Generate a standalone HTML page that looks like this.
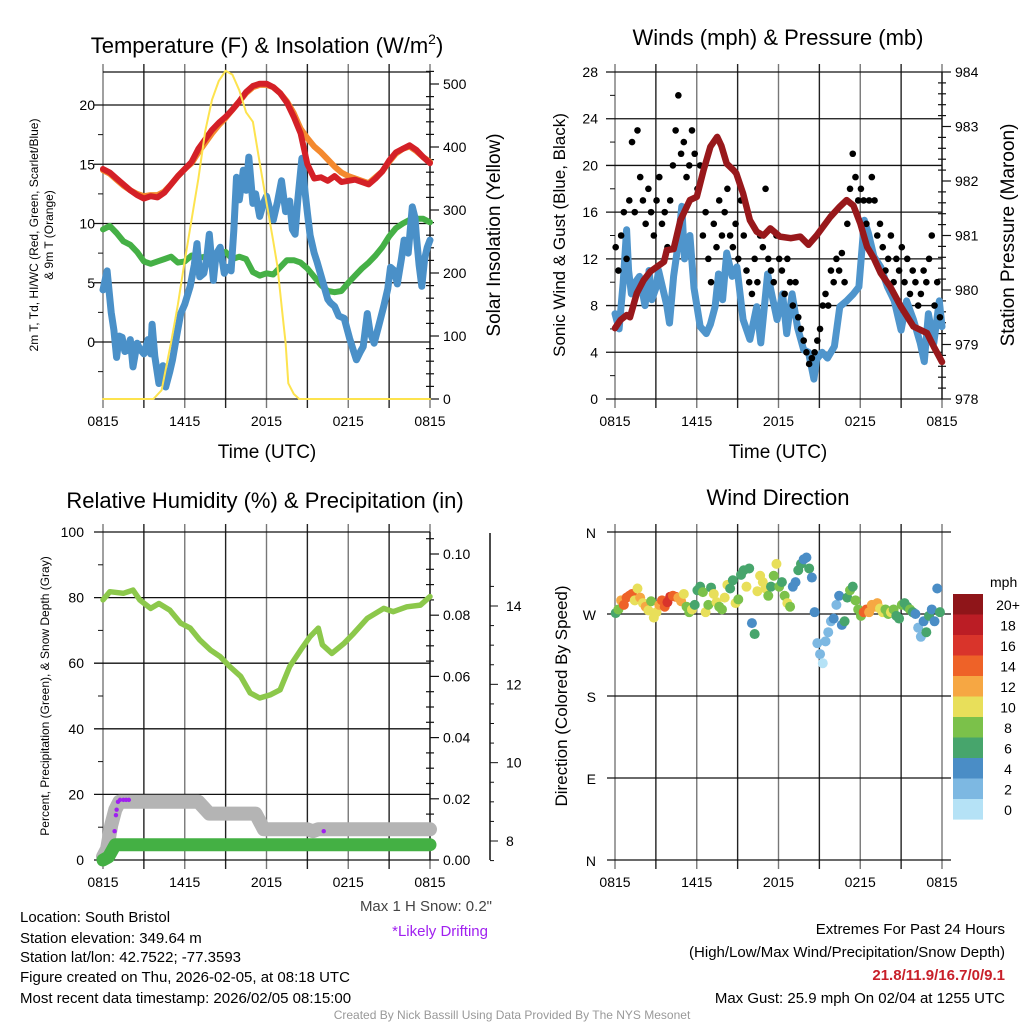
<!DOCTYPE html>
<html><head><meta charset="utf-8"><style>
body{margin:0;background:#fff}
svg{display:block;font-family:"Liberation Sans",sans-serif}
</style></head><body>
<svg id="s" width="1024" height="1024" viewBox="0 0 1024 1024">
<rect width="1024" height="1024" fill="#fff"/>
<g id="g1"></g>
<g id="g2"></g>
<g id="g3"></g>
<g id="g4"></g>
<g id="txt" font-size="15" fill="#000">
<text x="20" y="922">Location: South Bristol</text>
<text x="20" y="943">Station elevation: 349.64 m</text>
<text x="20" y="962">Station lat/lon: 42.7522; -77.3593</text>
<text x="20" y="982">Figure created on Thu, 2026-02-05, at 08:18 UTC</text>
<text x="20" y="1003">Most recent data timestamp: 2026/02/05 08:15:00</text>
<text x="1005" y="934" text-anchor="end">Extremes For Past 24 Hours</text>
<text x="1005" y="957" text-anchor="end">(High/Low/Max Wind/Precipitation/Snow Depth)</text>
<text x="1005" y="980" text-anchor="end" font-weight="bold" fill="#c8202a">21.8/11.9/16.7/0/9.1</text>
<text x="1005" y="1003" text-anchor="end">Max Gust: 25.9 mph On 02/04 at 1255 UTC</text>
<text x="512" y="1019" text-anchor="middle" font-size="12" fill="#999">Created By Nick Bassill Using Data Provided By The NYS Mesonet</text>
<text x="492" y="911" text-anchor="end" fill="#444">Max 1 H Snow: 0.2"</text>
<text x="488" y="936" text-anchor="end" fill="#a020f0">*Likely Drifting</text>
</g>
</svg>
<script>
// ---------- data ----------
const halfHours = [0,0.5,1,1.5,2,2.5,3,3.5,4,4.5,5,5.5,6,6.5,7,7.5,8,8.5,9,9.5,10,10.5,11,11.5,12,12.5,13,13.5,14,14.5,15,15.5,16,16.5,17,17.5,18,18.5,19,19.5,20,20.5,21,21.5,22,22.5,23,23.5,24];
const tempRed = [14.6,14.3,13.8,13.3,12.8,12.4,12.1,12.3,12.2,12.6,13.3,14.0,14.6,15.2,16.3,17.1,17.9,18.5,19.0,19.6,20.3,21.1,21.6,21.8,21.8,21.5,21.0,20.2,19.0,17.6,15.0,13.8,13.9,13.6,14.0,13.5,13.6,13.7,13.5,13.3,13.8,14.4,15.3,16.0,16.3,16.6,16.2,15.6,15.1];
const temp9m = [14.5,14.2,13.7,13.2,12.8,12.5,12.3,12.4,12.4,12.7,13.3,14.0,14.6,15.1,16.0,16.8,17.6,18.3,18.9,19.6,20.3,21.0,21.5,21.7,21.7,21.5,21.0,20.3,19.3,18.0,17.2,16.5,16.0,15.4,14.8,14.3,14.0,13.8,13.6,13.4,13.9,14.4,15.2,15.9,16.3,16.5,16.1,15.6,15.2];
const dewGreen = [9.5,9.8,9.2,8.5,8.2,7.6,6.8,6.6,6.8,7.0,7.2,6.7,6.8,7.3,7.1,7.2,7.1,7.5,7.6,7.0,7.2,7.0,5.9,5.6,5.8,5.7,6.3,6.9,6.9,6.7,6.2,5.5,4.8,4.3,4.2,4.3,5.0,5.6,6.2,6.7,7.3,8.0,8.9,9.6,10.0,10.3,10.4,10.4,10.1];
const wcTimes = [0,0.3,0.6,0.8,1.0,1.2,1.4,1.6,1.8,2.0,2.2,2.5,2.7,3.0,3.3,3.5,3.6,3.8,4.1,4.4,4.6,4.9,5.1,5.4,5.7,6.0,6.4,6.7,6.9,7.1,7.4,7.6,7.8,8.1,8.3,8.6,8.9,9.1,9.4,9.6,9.8,10.0,10.3,10.5,10.7,11.0,11.2,11.5,11.8,12.0,12.3,12.5,12.8,13.1,13.4,13.7,13.9,14.1,14.3,14.6,14.8,15.0,15.2,15.5,15.7,16.0,16.2,16.5,16.7,17.0,17.3,17.7,18.1,18.4,18.6,18.9,19.1,19.4,19.6,19.9,20.2,20.6,20.9,21.1,21.4,21.6,21.9,22.1,22.4,22.7,22.9,23.0,23.2,23.4,23.6,23.8,24];
const wcBlue = [4.4,6.0,2.5,1.0,-1.3,0.5,0.4,-0.8,-0.7,0.2,-2.1,-0.1,-0.6,-1.0,0.2,-1.0,1.5,-1.2,-3.5,-2.0,-3.8,-2.5,-1.5,0.5,2.4,3.2,4.7,6.5,8.3,5.5,5.8,7.0,9.1,5.2,7.4,8.0,5.8,6.3,6.0,9.4,13.9,12.0,14.5,12.8,15.6,11.7,12.5,10.6,11.8,12.3,10.9,10.3,11.8,13.6,11.0,11.9,9.5,9.1,12.0,15.5,13.0,10.9,9.0,7.5,6.8,5.6,4.8,3.6,3.3,3.0,2.2,2.0,0.3,-0.8,-1.5,-0.8,-0.4,2.4,0.8,-0.1,1.2,3.0,4.5,6.3,6.0,4.9,7.0,8.6,7.5,11.4,10.5,8.9,6.5,4.7,7.0,8.0,8.6];
const insolTimes = [0,3.7,4.3,5,5.5,6,6.5,7,7.5,8,8.5,9,9.5,10,10.5,11,11.5,12,12.5,12.8,13.2,13.4,13.6,14,14.4,24];
const insolVals = [0,0,14,90,150,220,285,350,425,475,505,521,515,490,455,440,375,312,250,211,130,89,25,8,0,0];

const windTimes = [0,0.3,0.6,0.85,1.0,1.2,1.5,1.8,2.2,2.5,2.7,3.0,3.2,3.5,3.8,4.0,4.3,4.6,4.9,5.1,5.5,5.8,6.25,6.7,7.0,7.35,7.6,7.9,8.2,8.6,8.95,9.4,9.9,10.4,10.7,11.2,11.5,11.9,12.3,12.6,13.0,13.4,13.85,14.2,14.6,14.8,15.2,15.6,16.1,16.5,17.0,17.5,17.9,18.3,18.6,19.0,19.5,20.0,20.5,21.0,21.4,21.9,22.4,22.7,23.0,23.4,23.8,24];
const windVals = [7.3,6.0,10,14.5,11,9,10,10.5,8,11,8.5,9.5,11,9.5,8,6.5,10.5,13,16.5,12,14,9.5,6.2,5.6,6.4,7.9,10.7,8.5,12.5,10.5,11.3,6.8,5.1,7.9,4.8,10.7,9.0,6.8,9.0,5.6,9.0,6.1,4.2,4.0,1.7,3.4,4.0,3.5,4.5,7.9,8.4,9.0,9.6,15.3,14.2,12.2,11.3,9.6,8.4,5.9,8.4,6.8,4.8,3.2,7.3,4.8,8.4,6.2];
const pressTimes = [0,0.4,0.86,1.1,1.6,2.1,2.6,3.6,3.8,4.3,4.8,5.5,6.0,6.5,7.0,7.5,7.8,8.2,8.7,8.9,9.4,9.9,10.4,10.9,11.4,12.1,12.9,13.6,14.2,14.8,15.8,16.5,17.0,17.5,18.0,18.5,19.0,19.5,20.2,21.0,21.9,22.9,23.4,24];
const pressVals = [979.3,979.45,979.54,979.5,979.94,980.18,980.34,980.52,980.73,980.75,981.28,981.65,981.71,982.2,982.63,982.81,982.65,982.32,982.2,982.14,981.77,981.28,981.07,981.0,981.13,980.98,980.95,980.98,980.83,981.0,981.34,981.53,981.65,981.55,981.22,980.79,980.58,980.31,980.06,979.69,979.33,979.21,978.96,978.68];
const gustVals = [13,11,14,16,12,17,22,16,23,19,17,15,18,16,14,17,19,15,16,13,17,20,23,26,21,22,19,20,23,21,18,20,14,16,12,10,15,13,17,14,16,18,14,13,15,12,17,14,11,10,9,12,10,14,13,18,12,11,10,14,12,11,9,12,10,8,10,7,6,5,4,3,3.5,4,5,6,8,9,8,11,10,12,11,12.5,10,15,18,21,19,17,18,17,15,17,19,17,14,15,13,11,12,14,10,12,11,13,10,12,9,11,10,8,9,11,10,12,14,8,10,7];

const rhTimes = [0,0.5,1.5,2.2,2.7,3.5,4.1,4.9,5.7,6.4,7.1,7.9,8.6,9.3,10.1,10.8,11.5,12.3,13.0,13.7,14.5,15.2,15.8,16.1,16.8,17.7,18.4,19.4,20.6,21.3,22.3,23.3,24];
const rhVals = [79.3,81.8,81.3,82.3,79.3,76.7,78.2,76.2,72.2,70.7,67.1,64.0,62.0,59.0,56.0,50.9,49.4,50.4,51.9,59.0,64.0,68.1,70.7,65.6,63.0,66.1,69.1,73.7,76.7,75.7,77.2,77.7,80.3];
const snowTimes = [0,0.3,0.6,0.9,1.2,1.5,7.0,7.8,11.2,11.8,15.0,15.4,15.8,24];
const snowVals = [7.6,7.8,8.4,8.8,9.0,9.0,9.0,8.7,8.7,8.3,8.3,8.25,8.3,8.3];
const precipTimes = [0,0.4,0.9,24];
const precipVals = [0,0.001,0.005,0.005];
const driftTimes = [0.85,0.95,1.0,1.1,1.25,1.5,1.7,1.9,16.2];
const driftVals = [8.25,8.66,8.8,9.0,9.05,9.05,9.05,9.05,8.25];

const dirVals = [271,275,285,280,288,290,292,285,298,288,282,278,274,284,266,272,280,285,278,283,289,290,289,288,284,292,278,272,275,280,296,300,294,272,280,299,292,283,278,275,288,302,298,307,282,286,313,318,300,320,260,248,295,312,305,298,290,300,312,325,300,305,290,282,278,300,305,318,325,330,332,320,310,272,238,226,216,240,250,262,265,280,290,258,262,288,296,300,285,275,268,272,275,272,280,278,282,276,272,275,270,272,275,268,265,280,282,278,275,272,270,255,245,262,250,268,275,262,298,272];
const dirSpeeds = [7,8,13,14,15,14,15,11,10,12,10,12,11,9,11,10,12,14,15,17,16,15,14,13,12,11,9,8,10,7,7,6,8,10,9,7,11,10,9,8,11,10,7,6,11,8,6,7,10,6,5,6,11,10,11,10,8,7,9,11,8,7,9,11,8,4,5,6,7,5,4,6,5,4,2,2,1,3,2,3,4,3,4,5,7,7,8,7,8,9,9,15,14,13,12,13,12,10,11,8,9,10,8,7,7,8,7,6,8,6,5,3,2,4,6,7,5,4,4,6];
const legendLabels = ["20+","18","16","14","12","10","8","6","4","2","0"];
const speedColors = ["#b5e2f6","#7db8e2","#4a8dc6","#47a56c","#7bc14a","#e8df5a","#f6a743","#ee6228","#d9342b","#bb1d25","#8f1519"];

// ---------- helpers ----------
const NS = "http://www.w3.org/2000/svg";
function mk(parent, tag, attrs, text){
  const e = document.createElementNS(NS, tag);
  for (const k in attrs) e.setAttribute(k, attrs[k]);
  if (text !== undefined) e.textContent = text;
  parent.appendChild(e);
  return e;
}
function tx(x0){ return t => x0 + t/24*327; }
function lin(v0, v1, y0, y1){ return v => y0 + (v - v0)/(v1 - v0)*(y1 - y0); }
function pathFrom(ts, vs, X, Y){ return ts.map((t,i)=>(i?"L":"M")+X(t).toFixed(1)+","+Y(vs[i]).toFixed(1)).join(""); }
const xLabels = ["0815","1415","2015","0215","0815"];

function frame(g, x0, y0, x1, y1){
  const X = tx(x0);
  for (let i=0;i<=8;i++){
    const x = X(i*3);
    const l = mk(g,"line",{x1:x,y1:y0-8,x2:x,y2:y1+9,stroke:i%2?"#222":"#777","stroke-width":1.4});
    
    
  }
  for (let i=0;i<5;i++){
    const lb = mk(g,"text",{x:X(i*6),y:y1+27,"text-anchor":"middle","font-size":14},xLabels[i]);
    
    
  }
  return X;
}
function hgrid(g, x0, x1, y, label, lx){
  const l = mk(g,"line",{x1:x0-9,y1:y,x2:x1,y2:y,stroke:"#111","stroke-width":1.3});
  
  
  if (label!==null){
    const t = mk(g,"text",{x:lx,y:y+5,"text-anchor":"end","font-size":14},label);
    
    
  }
}
function rightTick(g, x, y, label, major){
  const l = mk(g,"line",{x1:x-(major?0:4),y1:y,x2:x+(major?9:4),y2:y,stroke:"#111","stroke-width":1.2});
  
  
  if (label!==null){
    const t = mk(g,"text",{x:x+13,y:y+5,"font-size":14},label);
    
    
  }
}
function title(g, x, y, s, sup){
  const t = mk(g,"text",{x:x,y:y,"text-anchor":"middle","font-size":22},s);
  
  
  if (sup){ mk(t,"tspan",{"font-size":14,dy:-9},sup); mk(t,"tspan",{dy:9},")"); }
  return t;
}
function vlabel(g, x, y, s, fs){
  const t = mk(g,"text",{x:0,y:0,"text-anchor":"middle","font-size":fs,transform:`translate(${x},${y}) rotate(-90)`},s);
  
  
  return t;
}
function line(g, d, color, w, name){
  const p = mk(g,"path",{d:d,fill:"none",stroke:color,"stroke-width":w,"stroke-linejoin":"round","stroke-linecap":"round"});
  
  
  return p;
}

// ---------- panel 1 ----------
(function(){
  const g = document.getElementById("g1");
  const x0=103,x1=430,y0=72,y1=399;
  const X = frame(g,x0,y0,x1,y1);
  const Y = lin(0,20,342,105);
  const YR = lin(0,500,399,84);
  [20,15,10,5,0].forEach(v=>hgrid(g,x0,x1,Y(v),String(v),95));
  [17.5,12.5,7.5,2.5,-2.5].forEach(v=>{const l=mk(g,"line",{x1:x0-5,y1:Y(v),x2:x0,y2:Y(v),stroke:"#111"});});
  mk(g,"line",{x1:x0,y1:y1,x2:x1,y2:y1,stroke:"#111","stroke-width":1.3});
  mk(g,"line",{x1:x0,y1:y0,x2:x1,y2:y0,stroke:"#111","stroke-width":1.3});
  mk(g,"line",{x1:x1,y1:y0,x2:x1,y2:y1,stroke:"#111","stroke-width":1.3});
  for (let v=0; v<=520; v+=20) rightTick(g,x1,YR(v), v%100===0?String(v):null, v%100===0);
  line(g,pathFrom(halfHours,dewGreen,X,Y),"#45b046",6,"dewpoint-line");
  line(g,pathFrom(wcTimes,wcBlue,X,Y),"#4a90c8",7,"windchill-line");
  line(g,pathFrom(halfHours,temp9m,X,Y),"#f4892e",6,"temp-9m-line");
  line(g,pathFrom(halfHours,tempRed,X,Y),"#d42027",6,"temp-2m-line");
  line(g,pathFrom(insolTimes,insolVals,X,YR),"#fde34e",2,"insolation-line");
  title(g,267,53,"Temperature (F) & Insolation (W/m","2");
  vlabel(g,38,235,"2m T, Td, HI/WC (Red, Green, Scarlet/Blue)",12);
  vlabel(g,53,235,"& 9m T (Orange)",12);
  vlabel(g,500,235,"Solar Insolation (Yellow)",19);
  const xt = mk(g,"text",{x:267,y:458,"text-anchor":"middle","font-size":19},"Time (UTC)");
   
})();

// ---------- panel 2 ----------
(function(){
  const g = document.getElementById("g2");
  const x0=615,x1=942,y0=72,y1=399;
  const X = frame(g,x0,y0,x1,y1);
  const Y = lin(0,28,399,72);
  const YP = lin(978,984,399,72);
  for (let v=0; v<=28; v+=4) hgrid(g,x0,x1,Y(v),String(v),598);
  for (let v=2; v<28; v+=4){const l=mk(g,"line",{x1:x0-5,y1:Y(v),x2:x0,y2:Y(v),stroke:"#111"});}
  mk(g,"line",{x1:x1,y1:y0,x2:x1,y2:y1,stroke:"#111","stroke-width":1.3});
  for (let v=978; v<=984.001; v+=0.2){ const m = Math.abs(v-Math.round(v))<0.01; rightTick(g,x1,YP(v), m?String(Math.round(v)):null, m); }
  line(g,pathFrom(windTimes,windVals,X,Y),"#4f95cc",7,"sonic-wind-line");
  gustVals.forEach((v,i)=>{
    const c = mk(g,"circle",{cx:X(i*0.2+0.05),cy:Y(v),r:3.3,fill:"#000"});
    
    
  });
  line(g,pathFrom(pressTimes,pressVals,X,YP),"#98181b",6.5,"pressure-line");
  title(g,778,45,"Winds (mph) & Pressure (mb)");
  vlabel(g,565,235,"Sonic Wind & Gust (Blue, Black)",17);
  vlabel(g,1014,235,"Station Pressure (Maroon)",19);
  const xt = mk(g,"text",{x:778,y:458,"text-anchor":"middle","font-size":19},"Time (UTC)");
   
})();

// ---------- panel 3 ----------
(function(){
  const g = document.getElementById("g3");
  const x0=103,x1=430,y0=532,y1=860;
  const X = frame(g,x0,y0,x1,y1);
  const Y = lin(0,100,860,532);
  const YR = lin(0,0.1,860,554);
  const YS = lin(8,14,841,606);
  for (let v=0; v<=100; v+=20) hgrid(g,x0,x1,Y(v),String(v),84);
  for (let v=10; v<100; v+=20){const l=mk(g,"line",{x1:x0-5,y1:Y(v),x2:x0,y2:Y(v),stroke:"#111"});}
  mk(g,"line",{x1:x1,y1:y0,x2:x1,y2:y1,stroke:"#111","stroke-width":1.3});
  for (let v=0; v<=0.1051; v+=0.005){ const m = Math.round(v*1000)%20===0; rightTick(g,x1,YR(v), m?v.toFixed(2):null, m); }
  const ax = mk(g,"line",{x1:490,y1:533,x2:490,y2:860,stroke:"#111","stroke-width":1.5});
   
  for (let v=7.5; v<=14.9; v+=0.5){ const m = Math.abs(v-Math.round(v))<0.01 && Math.round(v)%2===0;
    const l=mk(g,"line",{x1:490,y1:YS(v),x2:490+(m?8:4),y2:YS(v),stroke:"#111"});  
    if (m){ const t=mk(g,"text",{x:506,y:YS(v)+5,"font-size":14},String(Math.round(v)));   } }
  line(g,pathFrom(snowTimes,snowVals,X,YS),"#b4b4b4",14,"snow-depth-line");
  line(g,pathFrom(precipTimes,precipVals,X,YR),"#44b044",13,"precipitation-line");
  line(g,pathFrom(rhTimes,rhVals,X,Y),"#8cc84b",5.5,"humidity-line");
  driftTimes.forEach((t,i)=>{
    const c = mk(g,"circle",{cx:X(t),cy:YS(driftVals[i]),r:2.2,fill:"#a020f0"});
    
    
  });
  title(g,265,508,"Relative Humidity (%) & Precipitation (in)");
  vlabel(g,49,696,"Percent, Precipitation (Green), & Snow Depth (Gray)",12);
})();

// ---------- panel 4 ----------
(function(){
  const g = document.getElementById("g4");
  const x0=616,x1=942,y0=532,y1=860;
  const X = tx(x0-1);
  const Y = lin(0,360,860,532);
  for (let i=0;i<=8;i++){ const x=X(i*3); const l=mk(g,"line",{x1:x,y1:y0-8,x2:x,y2:y1+9,stroke:i%2?"#222":"#777","stroke-width":1.4});   }
  for (let i=0;i<5;i++){ const lb=mk(g,"text",{x:X(i*6),y:y1+27,"text-anchor":"middle","font-size":14},xLabels[i]);   }
  const dl = ["N","E","S","W","N"];
  [0,90,180,270,360].forEach((d,i)=>{ const l=mk(g,"line",{x1:x0-9,y1:Y(d),x2:x1+9,y2:Y(d),stroke:"#111","stroke-width":1.3});  
    const t=mk(g,"text",{x:596,y:Y(d)+6,"text-anchor":"end","font-size":14},dl[i]);   });
  dirVals.forEach((d,i)=>{
    const s = dirSpeeds[i];
    const ci = Math.min(10, Math.floor(s/2));
    const c = mk(g,"circle",{cx:X(i*0.2+0.05),cy:Y(d),r:5,fill:speedColors[ci]});
    
    
  });
  const mph = mk(g,"text",{x:990,y:587,"font-size":14},"mph");
   
  legendLabels.forEach((lb,i)=>{
    const r = mk(g,"rect",{x:953,y:594+i*20.5,width:30,height:20.6,fill:speedColors[10-i]});
     
    const t = mk(g,"text",{x:1008,y:594+i*20.5+16,"text-anchor":"middle","font-size":14},lb);
     
  });
  title(g,778,505,"Wind Direction");
  vlabel(g,567,696,"Direction (Colored By Speed)",17);
})();
</script>
</body></html>
